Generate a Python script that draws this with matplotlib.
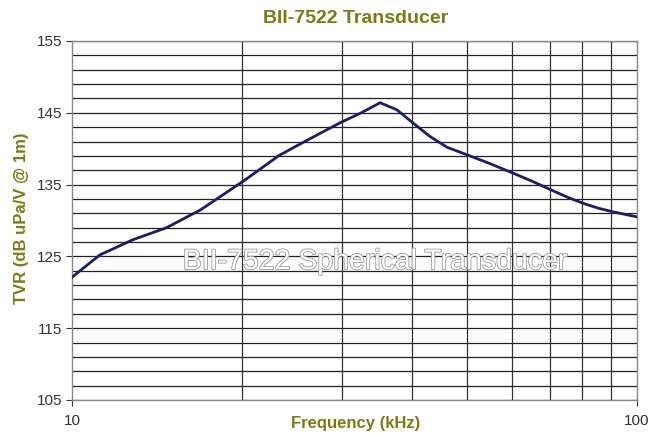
import matplotlib
matplotlib.use("Agg")
import matplotlib.pyplot as plt
import matplotlib.patheffects as pe
from matplotlib.ticker import FixedLocator, NullLocator

plt.rcParams['font.family'] = ['Liberation Sans', 'DejaVu Sans']

freq_khz = [10.0, 11.2, 12.8, 14.7, 16.9, 20.2, 23.3, 26.1, 29.8, 32.5, 35.1, 37.6, 40.1, 43.0, 46.1, 50.2, 55.0, 60.3, 65.5, 70.7, 75.5, 80.9, 85.5, 90.7, 100.0]
tvr_db = [122.1, 125.2, 127.3, 129.0, 131.5, 135.6, 139.1, 141.2, 143.6, 145.0, 146.4, 145.4, 143.6, 141.7, 140.2, 139.1, 137.9, 136.6, 135.4, 134.2, 133.2, 132.3, 131.7, 131.2, 130.5]

y_ticks = [105, 115, 125, 135, 145, 155]
x_ticks = [10, 100]
x_grid = [20, 30, 40, 50, 60, 70, 80, 90]
y_grid = list(range(105, 156, 2))

olive = '#7b7b12'

fig = plt.figure(figsize=(6.65, 4.36), dpi=100)
ax = fig.add_axes([0.1083, 0.0826, 0.8497, 0.8234])
ax.set_xscale('log')
ax.set_xlim(10, 100)
ax.set_ylim(105, 155)

for g in y_grid:
    ax.axhline(g, color='#222222', lw=0.9, zorder=1)
for g in x_grid:
    ax.axvline(g, color='#333333', lw=0.9, zorder=1)

ax.plot(freq_khz, tvr_db, color='#1c1c6a', lw=2.0, zorder=3)

ax.xaxis.set_major_locator(FixedLocator(x_ticks))
ax.xaxis.set_minor_locator(NullLocator())
ax.set_xticklabels([str(v) for v in x_ticks])
ax.yaxis.set_major_locator(FixedLocator(y_ticks))
ax.set_yticklabels([str(v) for v in y_ticks])
ax.tick_params(axis='both', labelsize=11, colors='#333333', length=4, width=0.8, pad=3)
ax.tick_params(axis='x', pad=6)

for s in ax.spines.values():
    s.set_color('#888888')
    s.set_linewidth(1.0)

ax.text(0.536, 0.384, 'BII-7522 Spherical Transducer', transform=ax.transAxes,
        ha='center', va='center', fontsize=20.5, color='white', zorder=4,
        path_effects=[pe.withStroke(linewidth=1.2, foreground='#999999')])

fig.text(0.535, 0.958, 'BII-7522 Transducer', ha='center', va='center',
         fontsize=14, fontweight='bold', color=olive)
fig.text(0.535, 1 - 423 / 436, 'Frequency (kHz)', ha='center', va='center',
         fontsize=12, fontweight='bold', color=olive)
fig.text(22 / 665, 0.5, 'TVR (dB uPa/V @ 1m)', ha='center', va='center', rotation=90,
         fontsize=12, fontweight='bold', color=olive)

fig.savefig('out.png', dpi=100)
